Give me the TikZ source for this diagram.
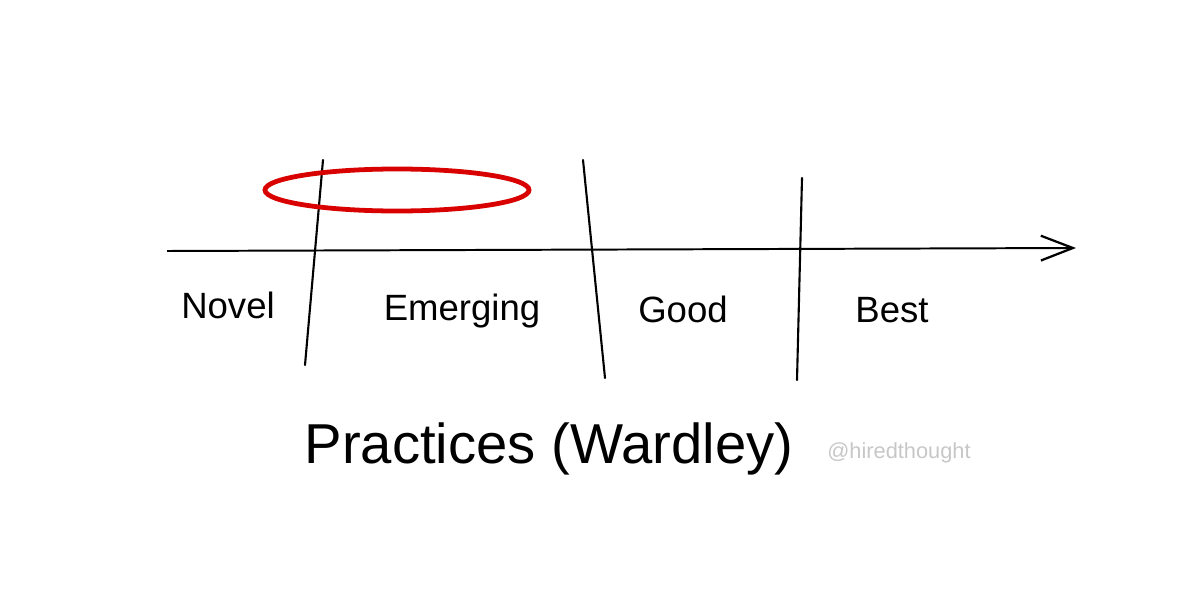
\documentclass[tikz,border=0pt]{standalone}
\usepackage{fontspec}
\setmainfont{Liberation Sans}
\usetikzlibrary{arrows.meta,shapes.geometric}
\tikzset{
  lbl/.style={font=\fontsize{26}{30}\selectfont,anchor=base,inner sep=0pt},
  divider/.style={line width=1.5pt,line cap=round},
}
\begin{document}
\begin{tikzpicture}[x=0.025cm,y=-0.025cm]
      \useasboundingbox (0,0) rectangle (1200,610);
      \coordinate (L) at (167,251);
      \coordinate (R) at (1076,248);
      \draw[line width=1.4pt,-{Straight Barb[length=0.8cm,width=0.62cm,line width=1.6pt]}] (L) -- (R);

      %% dividers
      \coordinate (1t) at (323,160);
      \coordinate (1b) at (305,365);
      \coordinate (2t) at (583,160);
      \coordinate (2b) at (605,378);
      \coordinate (3t) at (802,178);
      \coordinate (3b) at (797,380);
      \draw[divider] (1t) -- (1b);
      \draw[divider] (2t) -- (2b);
      \draw[divider] (3t) -- (3b);

      \node[lbl] (novel) at (228,318) {Novel};
      \node[lbl] (emerging) at (462,320) {Emerging};
      \node[lbl] (good) at (683,322) {Good};
      \node[lbl] (best) at (892,322) {Best};

      %% highlight
      \node[draw=red!85!black,line width=3.4pt,ellipse,minimum width=6.6cm,minimum height=1.05cm] (hl) at (397,190) {};

      \node[lbl,font=\fontsize{40}{46}\selectfont] (title) at (549,463) {Practices (Wardley)};
      \node[lbl,font=\fontsize{15.5}{18}\selectfont,text=black!22] (tag) at (899,458) {@hiredthought};
\end{tikzpicture}
\end{document}
